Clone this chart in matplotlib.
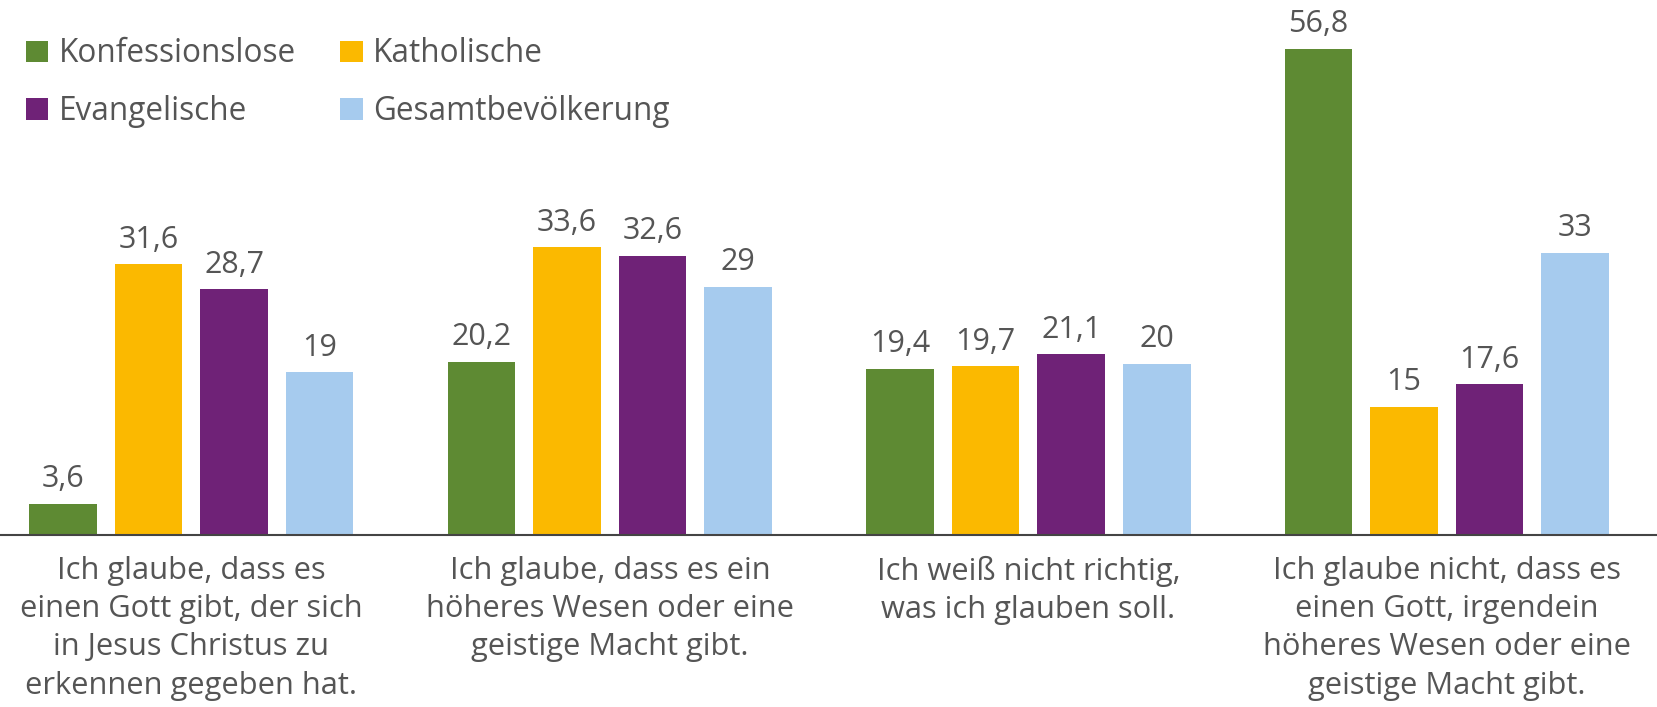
"""Grouped bar chart: Glaube an Gott nach Konfession"""
import matplotlib.pyplot as plt
import numpy as np
from matplotlib.patches import Patch

plt.rcParams['font.family'] = ['Open Sans', 'DejaVu Sans']

categories = [
    "Ich glaube, dass es\neinen Gott gibt, der sich\nin Jesus Christus zu\nerkennen gegeben hat.",
    "Ich glaube, dass es ein\nhöheres Wesen oder eine\ngeistige Macht gibt.",
    "Ich weiß nicht richtig,\nwas ich glauben soll.",
    "Ich glaube nicht, dass es\neinen Gott, irgendein\nhöheres Wesen oder eine\ngeistige Macht gibt.",
]
series_names = ["Konfessionslose", "Katholische", "Evangelische", "Gesamtbevölkerung"]
konfessionslose = [3.6, 20.2, 19.4, 56.8]
katholische = [31.6, 33.6, 19.7, 15]
evangelische = [28.7, 32.6, 21.1, 17.6]
gesamt = [19, 29, 20, 33]

colors = ["#5e8a33", "#fbb900", "#6f2277", "#a6cbee"]
text_col = "#555555"


def fmt(v):
    # German decimal comma, integers without decimals
    if float(v).is_integer():
        return str(int(v))
    return f"{v:.1f}".replace(".", ",")


fig = plt.figure(figsize=(16.57, 7.07), dpi=100)
ax = fig.add_axes([0, 0.2433, 1, 0.7567])

x = np.arange(len(categories))
width = 0.1615
step = 0.2045
all_series = [konfessionslose, katholische, evangelische, gesamt]
for i, (vals, col, name) in enumerate(zip(all_series, colors, series_names)):
    b = ax.bar(x + (i - 1.5) * step, vals, width, color=col, label=name)
    ax.bar_label(b, labels=[fmt(v) for v in vals], padding=7,
                 fontsize=22, color=text_col)

ax.set_xlim(-0.457, 3.502)
ax.set_ylim(0, 62.5)

for s in ["top", "right", "left"]:
    ax.spines[s].set_visible(False)
ax.spines["bottom"].set_color("#444444")
ax.spines["bottom"].set_linewidth(1.5)
ax.set_yticks([])
ax.set_xticks(x)
ax.set_xticklabels(categories, fontsize=22.2, color=text_col, linespacing=1.36)
ax.tick_params(axis="x", length=0, pad=15)

# legend: column-major order so Konfessionslose/Katholische sit in the first row
order = [0, 2, 1, 3]
handles = [Patch(facecolor=colors[k], edgecolor="none", label=series_names[k]) for k in order]
leg = fig.legend(handles=handles, ncol=2, loc="upper left",
                 bbox_to_anchor=(0.0155, 0.947), frameon=False, fontsize=22.7,
                 borderpad=0, borderaxespad=0,
                 handlelength=0.72, handleheight=0.68, handletextpad=0.33,
                 columnspacing=1.4, labelspacing=0.79)
for t in leg.get_texts():
    t.set_color(text_col)

fig.savefig("out.png", dpi=100)
